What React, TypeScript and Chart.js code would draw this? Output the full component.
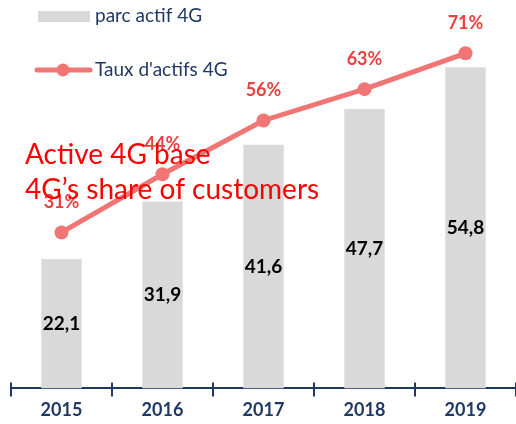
import React, { useEffect, useRef } from 'react';
import { Chart, registerables } from 'chart.js';

Chart.register(...registerables);

const years = ['2015', '2016', '2017', '2018', '2019'];
const activeBase = [22.1, 31.9, 41.6, 47.7, 54.8];
const shareOfCustomers = [31, 44, 56, 63, 71];
const barLabel = 'parc actif 4G';
const lineLabel = "Taux d'actifs 4G";
const overlayLines = ['Active 4G base', '4G\u2019s share of customers'];

const NAVY = '#1F3864';
const BAR = '#D9D9D9';
const LINE = '#F07676';
const PCT = '#E84141';
const FONT = 'Lato, "Open Sans", sans-serif';

const fmt = (v: number) => v.toFixed(1).replace('.', ',');

const decorPlugin = {
  id: 'decor',
  afterDatasetsDraw(chart: any) {
    const ctx = chart.ctx as CanvasRenderingContext2D;
    const area = chart.chartArea;
    const x = chart.scales.x;
    ctx.save();
    // upper half of the axis tick marks
    ctx.strokeStyle = NAVY;
    ctx.lineWidth = 2;
    for (let i = 0; i <= years.length; i++) {
      const px = Math.round(x.getPixelForValue(i - 0.5));
      ctx.beginPath();
      ctx.moveTo(px, area.bottom - 6);
      ctx.lineTo(px, area.bottom);
      ctx.stroke();
    }
    // bar value labels
    const barMeta = chart.getDatasetMeta(0);
    ctx.fillStyle = '#000000';
    ctx.font = `bold 19px ${FONT}`;
    ctx.textAlign = 'center';
    ctx.textBaseline = 'middle';
    barMeta.data.forEach((el: any, i: number) => {
      ctx.fillText(fmt(activeBase[i]), el.x, (el.y + el.base) / 2);
    });
    // line value labels
    const lineMeta = chart.getDatasetMeta(1);
    ctx.fillStyle = PCT;
    ctx.font = `bold 18px ${FONT}`;
    lineMeta.data.forEach((el: any, i: number) => {
      ctx.fillText(`${shareOfCustomers[i]}%`, el.x, el.y - 30);
    });
    // legend
    ctx.textAlign = 'left';
    ctx.font = `19px ${FONT}`;
    ctx.fillStyle = BAR;
    ctx.fillRect(38, 11, 52, 11);
    ctx.fillStyle = NAVY;
    ctx.fillText(barLabel, 95, 16);
    ctx.strokeStyle = LINE;
    ctx.lineWidth = 5;
    ctx.lineCap = 'round';
    ctx.beginPath();
    ctx.moveTo(37, 70);
    ctx.lineTo(90, 70);
    ctx.stroke();
    ctx.fillStyle = LINE;
    ctx.beginPath();
    ctx.arc(63, 70, 6.5, 0, Math.PI * 2);
    ctx.fill();
    ctx.fillStyle = NAVY;
    ctx.fillText(lineLabel, 95, 70);
    // red overlay text
    ctx.fillStyle = '#FF0000';
    ctx.font = `28px ${FONT}`;
    ctx.fillText(overlayLines[0], 25, 155);
    ctx.fillText(overlayLines[1], 25, 190);
    ctx.restore();
  },
};

export default function App() {
  const ref = useRef<HTMLCanvasElement | null>(null);
  useEffect(() => {
    if (!ref.current) return;
    Chart.defaults.font.family = FONT;
    const chart = new Chart(ref.current, {
      type: 'bar',
      data: {
        labels: years,
        datasets: [
          {
            type: 'bar',
            label: barLabel,
            data: activeBase,
            backgroundColor: BAR,
            borderWidth: 0,
            barPercentage: 0.4,
            categoryPercentage: 1,
            yAxisID: 'y',
            order: 2,
          },
          {
            type: 'line',
            label: lineLabel,
            data: shareOfCustomers,
            borderColor: LINE,
            backgroundColor: LINE,
            borderWidth: 5,
            pointRadius: 7,
            pointHoverRadius: 7,
            pointBackgroundColor: LINE,
            pointBorderWidth: 0,
            tension: 0,
            clip: false,
            yAxisID: 'y2',
            order: 1,
          } as any,
        ],
      },
      options: {
        animation: false,
        responsive: false,
        maintainAspectRatio: false,
        devicePixelRatio: 1,
        layout: { autoPadding: false, padding: { left: 11, right: 0, top: 0, bottom: 0 } },
        plugins: {
          legend: { display: false },
          tooltip: { enabled: false },
        },
        scales: {
          x: {
            offset: true,
            grid: {
              display: true,
              offset: true,
              drawOnChartArea: false,
              drawTicks: true,
              tickLength: 8,
              color: NAVY,
              lineWidth: 2,
            },
            border: { display: true, color: NAVY, width: 2 },
            ticks: {
              color: NAVY,
              font: { size: 18, weight: 'bold', family: FONT },
              padding: 3,
              maxRotation: 0,
              autoSkip: false,
            },
          },
          y: { display: false, min: 0, max: 66.3 },
          y2: { display: false, min: -3.82, max: 82.9 },
        },
      },
      plugins: [decorPlugin],
    });
    return () => chart.destroy();
  }, []);
  return (
    <div style={{ position: 'fixed', left: 0, top: 0, width: 516, height: 424 }}>
      <canvas ref={ref} width={516} height={424} style={{ display: 'block', width: 516, height: 424 }} />
    </div>
  );
}
